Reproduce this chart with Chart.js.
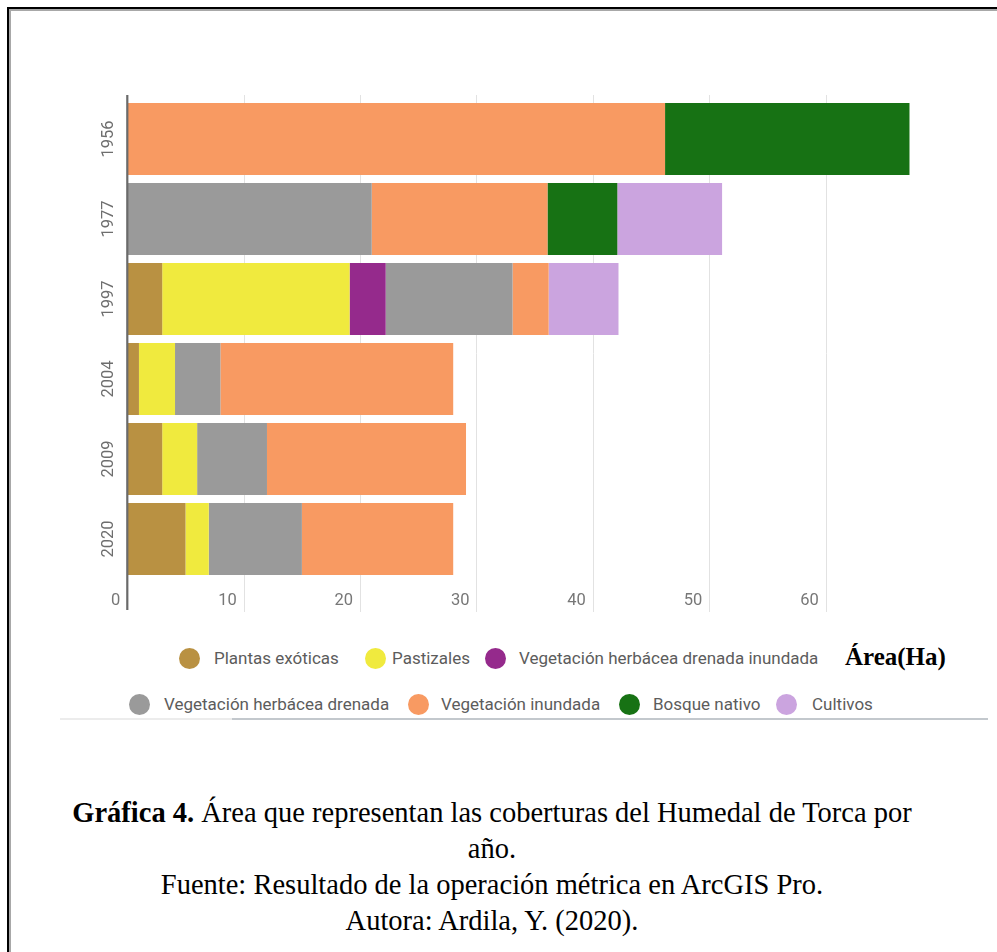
<!DOCTYPE html>
<html lang="es">
<head>
<meta charset="utf-8">
<title>Humedal de Torca – coberturas por año</title>
<script src="https://cdn.jsdelivr.net/npm/chart.js@4/dist/chart.umd.min.js"></script>
<style>
  html, body { margin: 0; padding: 0; background: #fff; width: 997px; height: 952px; overflow: hidden; }
  .frame { position: absolute; left: 7px; top: 7px; width: 1010px; height: 970px;
           border-left: 2px solid #000; border-top: 2px solid #000;
           box-shadow: inset 2px 2px 0 #a8a8a8; }
  #plot { position: absolute; left: 0; top: 0; }
  .lg-dot { position: absolute; width: 21px; height: 21px; border-radius: 50%; }
  .lg-txt { position: absolute; font: 17px Roboto, "Noto Sans", sans-serif; color: #5c5c5c;
            line-height: 20px; white-space: nowrap; }
  .unit { position: absolute; left: 845px; top: 642px; font: bold 25px "Liberation Serif", "Times New Roman", serif;
          color: #000; line-height: 30px; white-space: nowrap; }
  .rule1 { position: absolute; left: 60px; top: 718px; width: 172px; height: 2px; background: #ececec; }
  .rule2 { position: absolute; left: 232px; top: 718px; width: 756px; height: 2px; background: #c3c8cd; }
  .caption { position: absolute; left: 52px; top: 795px; width: 880px; text-align: center;
             font: 28.5px "Liberation Serif", "Times New Roman", serif; line-height: 36px; color: #000; }
</style>
</head>
<body>
<div class="frame"></div>
<canvas id="plot" width="997" height="630"></canvas>
<div id="legend"></div>
<div class="unit">Área(Ha)</div>
<div class="rule1"></div>
<div class="rule2"></div>
<div class="caption"><b>Gráfica 4.</b> Área que representan las coberturas del Humedal de Torca por<br>año.<br>Fuente: Resultado de la operación métrica en ArcGIS Pro.<br>Autora: Ardila, Y. (2020).</div>

<script>
// Years (categories)
const years = ['1956', '1977', '1997', '2004', '2009', '2020'];

// Area in hectares of each land cover, per year
const plantasExoticas   = [0, 0, 3.0, 1.0, 3.0, 5.0];
const pastizales        = [0, 0, 16.1, 3.1, 3.0, 2.0];
const vegHerbDrenInund  = [0, 0, 3.1, 0, 0, 0];
const vegHerbDrenada    = [0, 21.0, 10.9, 3.9, 6.0, 8.0];
const vegInundada       = [46.2, 15.1, 3.1, 20.0, 17.1, 13.0];
const bosqueNativo      = [21.0, 6.0, 0, 0, 0, 0];
const cultivos          = [0, 9.0, 6.0, 0, 0, 0];

// Horizontal axis tick values
const xTicks = [0, 10, 20, 30, 40, 50, 60];

const seriesNames = ['Plantas exóticas', 'Pastizales', 'Vegetación herbácea drenada inundada',
                     'Vegetación herbácea drenada', 'Vegetación inundada', 'Bosque nativo', 'Cultivos'];
const seriesValues = [plantasExoticas, pastizales, vegHerbDrenInund, vegHerbDrenada,
                      vegInundada, bosqueNativo, cultivos];
const seriesColors = ['#b99142', '#f0ea3e', '#952a8c', '#9a9a9a', '#f89a62', '#177214', '#cba4df'];

// Legend placement: [circle centre x, text left x, row centre y]
const legendLayout = [
  [189, 214, 658], [375, 392, 658], [495, 519, 658],
  [139, 164, 704], [418, 441, 704], [629, 653, 704], [786, 812, 704]
];

const legend = document.getElementById('legend');
seriesNames.forEach((name, i) => {
  const [cx, tx, cy] = legendLayout[i];
  const dot = document.createElement('div');
  dot.className = 'lg-dot';
  dot.style.left = (cx - 10.5) + 'px';
  dot.style.top = (cy - 10.5) + 'px';
  dot.style.background = seriesColors[i];
  const txt = document.createElement('div');
  txt.className = 'lg-txt';
  txt.style.left = tx + 'px';
  txt.style.top = (cy - 10) + 'px';
  txt.textContent = name;
  legend.appendChild(dot);
  legend.appendChild(txt);
});

// Gridlines, zero axis and tick labels drawn from the chart's own scales
const axisDecor = {
  id: 'axisDecor',
  beforeDatasetsDraw(chart) {
    const { ctx, chartArea, scales: { x } } = chart;
    ctx.save();
    ctx.strokeStyle = '#e2e2e2';
    ctx.lineWidth = 1;
    xTicks.forEach(v => {
      if (v === 0) return;
      const px = Math.round(x.getPixelForValue(v)) + 0.5;
      ctx.beginPath();
      ctx.moveTo(px, chartArea.top - 4);
      ctx.lineTo(px, chartArea.bottom + 33);
      ctx.stroke();
    });
    ctx.restore();
  },
  afterDatasetsDraw(chart) {
    const { ctx, chartArea, scales: { x, y } } = chart;
    ctx.save();
    // zero axis
    const x0 = x.getPixelForValue(0);
    ctx.strokeStyle = '#6a6a6a';
    ctx.lineWidth = 2.2;
    ctx.beginPath();
    ctx.moveTo(x0, chartArea.top - 4);
    ctx.lineTo(x0, chartArea.bottom + 31);
    ctx.stroke();
    // x tick labels, right-aligned just left of their gridline
    ctx.fillStyle = '#777';
    ctx.font = '16.5px Roboto, "Noto Sans", sans-serif';
    ctx.textAlign = 'right';
    ctx.textBaseline = 'middle';
    xTicks.forEach(v => {
      ctx.fillText(String(v), x.getPixelForValue(v) - 7, chartArea.bottom + 22);
    });
    // rotated year labels
    ctx.fillStyle = '#6e6e6e';
    ctx.textAlign = 'center';
    years.forEach((yr, i) => {
      ctx.save();
      ctx.translate(109, y.getPixelForValue(i));
      ctx.rotate(-Math.PI / 2);
      ctx.fillText(yr, 0, 0);
      ctx.restore();
    });
    ctx.restore();
  }
};

new Chart(document.getElementById('plot'), {
  type: 'bar',
  data: {
    labels: years,
    datasets: seriesNames.map((name, i) => ({
      label: name,
      data: seriesValues[i],
      backgroundColor: seriesColors[i],
      borderWidth: 0,
      categoryPercentage: 0.9,
      barPercentage: 1.0
    }))
  },
  options: {
    indexAxis: 'y',
    responsive: false,
    animation: false,
    layout: { padding: { left: 127.3, right: 78.2, top: 99, bottom: 18 } },
    plugins: { legend: { display: false }, tooltip: { enabled: false } },
    scales: {
      x: {
        stacked: true, min: 0, max: 68,
        ticks: { display: false, stepSize: 10, includeBounds: false },
        grid: { display: false }, border: { display: false },
        afterFit(s) { s.height = 33; }
      },
      y: {
        stacked: true,
        ticks: { display: false },
        grid: { display: false }, border: { display: false },
        afterFit(s) { s.width = 0; }
      }
    }
  },
  plugins: [axisDecor]
});
</script>
</body>
</html>
